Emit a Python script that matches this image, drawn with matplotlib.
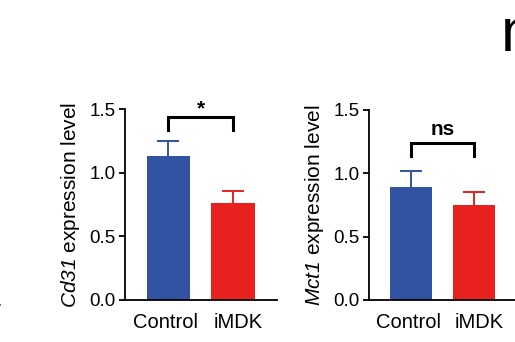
import matplotlib
matplotlib.use("Agg")
import matplotlib.pyplot as plt
import matplotlib.transforms as mtransforms

plt.rcParams['font.family'] = ['Liberation Sans', 'DejaVu Sans']
# gene names are fully italic (digits too), so point both math fonts at italic
plt.rcParams['mathtext.fontset'] = 'custom'
plt.rcParams['mathtext.rm'] = 'Liberation Sans:italic'
plt.rcParams['mathtext.it'] = 'Liberation Sans:italic'

# data
groups = ["Control", "iMDK"]
cd31_mean = [1.13, 0.76]
cd31_err = [0.12, 0.10]
mct1_mean = [0.89, 0.75]
mct1_err = [0.13, 0.10]
yticks = [0.0, 0.5, 1.0, 1.5]

blue = "#3252a2"
red = "#e8211f"

fig = plt.figure(figsize=(5.15, 3.42), dpi=100)

# axes positions in figure fractions (pixels / fig size)
ax1 = fig.add_axes([125/515, 42/342, 152/515, 190.7/342])
ax2 = fig.add_axes([369/515, 42/342, 148/515, 190/342])


def draw_panel(ax, means, errs, gene, sig, br_top, br_leg, txt_y):
    x = list(range(len(groups)))
    colors = [blue, red]
    ax.bar(x, means, width=0.667, color=colors, zorder=2)
    # upper error bars only
    for xi, m, e, c in zip(x, means, errs, colors):
        ax.vlines(xi, m, m + e, color=c, lw=1.4, zorder=1)
        ax.hlines(m + e, xi - 0.17, xi + 0.17, color=c, lw=1.4, zorder=1)
    ax.set_xlim(-0.67, 1.68)
    ax.set_ylim(0, 1.5)
    ax.set_yticks(yticks)
    ax.set_yticklabels(["%.1f" % t for t in yticks], fontsize=13.5)
    ax.set_xticks(x)
    ax.set_xticklabels([])
    # group labels, nudged a little apart from the bar centres like the original
    for xi, name, dx in zip(x, groups, [-3, 5]):
        tr = ax.get_xaxis_transform() + mtransforms.ScaledTranslation(
            dx / 100, -13 / 100, fig.dpi_scale_trans)
        ax.text(xi, 0, name, transform=tr, ha='center', va='top', fontsize=14.5)
    ax.tick_params(axis='x', length=0)
    ax.tick_params(axis='y', length=4, width=1.3, direction='out', pad=3)
    for s in ['top', 'right']:
        ax.spines[s].set_visible(False)
    for s in ['left', 'bottom']:
        ax.spines[s].set_linewidth(1.3)
    ax.set_ylabel(r"$%s$ expression level" % gene, fontsize=15, labelpad=5)
    # significance bracket
    ax.plot([0, 0, 1, 1], [br_leg, br_top, br_top, br_leg], color='black',
            lw=2.2, clip_on=False, solid_joinstyle='miter')
    ax.text(0.5, txt_y, sig, ha='center', va='bottom', fontsize=15,
            fontweight='bold', clip_on=False)


draw_panel(ax1, cd31_mean, cd31_err, "Cd31", "*", 1.44, 1.34, 1.43)
draw_panel(ax2, mct1_mean, mct1_err, "Mct1", "ns", 1.24, 1.14, 1.27)

# cut-off panel letters at the figure edges
fig.text(501/515, 1 - 51/342, "n", fontsize=44, ha='left', va='baseline')
fig.text(-4/515, 1 - 306/342, ".", fontsize=14, ha='left', va='baseline')

fig.savefig("out.png", dpi=100)
